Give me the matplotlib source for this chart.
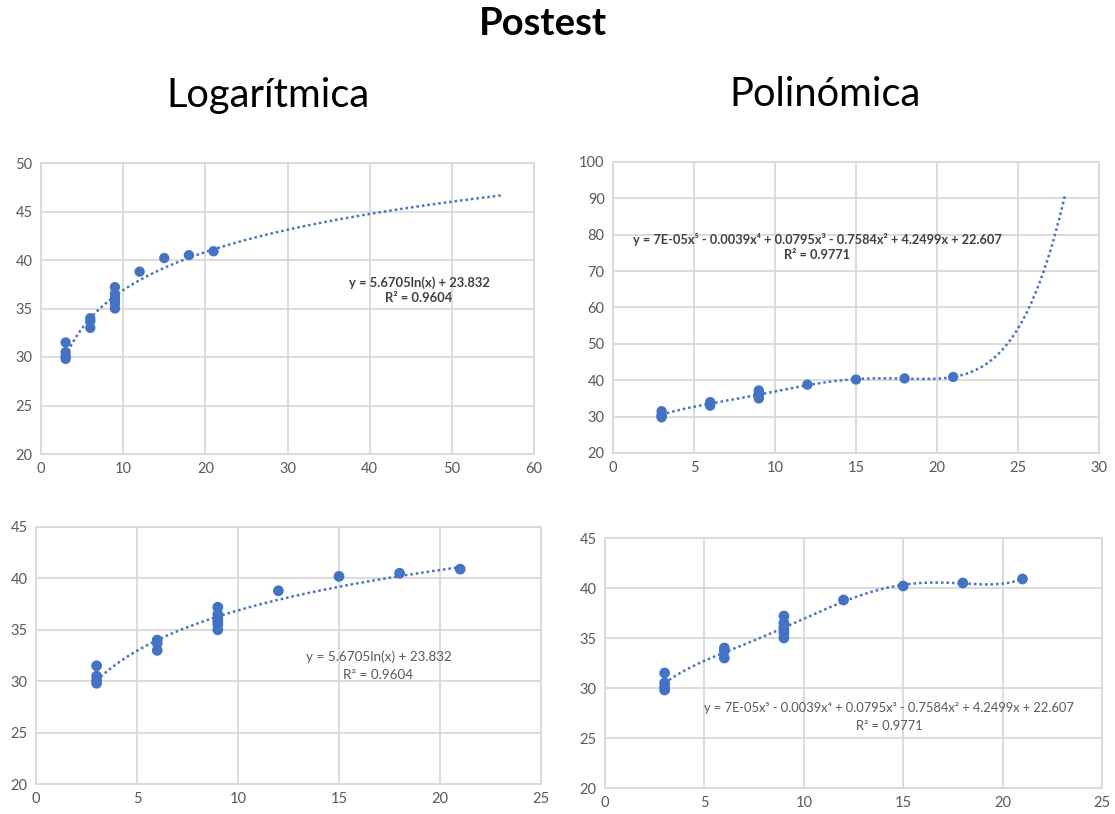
import numpy as np
import matplotlib
matplotlib.use("Agg")
import matplotlib.pyplot as plt

plt.rcParams['font.family'] = ['Lato', 'DejaVu Sans']

# Data
x_vals = [3, 3, 3, 3, 6, 6, 6, 9, 9, 9, 9, 9, 9, 12, 15, 18, 21]
y_vals = [31.5, 30.5, 30.1, 29.8, 34.0, 33.7, 33.0,
          37.2, 36.5, 36.1, 35.8, 35.5, 35.0, 38.8, 40.2, 40.5, 40.9]

log_coef = [5.6705, 23.832]  # y = a ln(x) + b (as displayed)
log_label = "y = 5.6705ln(x) + 23.832\nR² = 0.9604"
poly_label = ("y = 7E-05x⁵ - 0.0039x⁴ + 0.0795x³ - 0.7584x² + 4.2499x + 22.607\n"
              "R² = 0.9771")

title = "Postest"
col_titles = ["Logarítmica", "Polinómica"]

blue = "#4472C4"
grid_c = "#D9D9D9"
tick_c = "#595959"

x = np.array(x_vals, dtype=float)
y = np.array(y_vals, dtype=float)
pcoef = np.polyfit(x, y, 5)

fig = plt.figure(figsize=(11.15, 8.14), dpi=100)
W, H = 1115, 814

def add_ax(l, r, t, b):
    return fig.add_axes([l / W, 1 - b / H, (r - l) / W, (b - t) / H])

def style(ax, xlim, xstep, ylim, ystep, tsize=10.5):
    ax.set_xlim(*xlim)
    ax.set_ylim(*ylim)
    ax.set_xticks(np.arange(xlim[0], xlim[1] + 0.1, xstep))
    ax.set_yticks(np.arange(ylim[0], ylim[1] + 0.1, ystep))
    ax.grid(True, color=grid_c, lw=1.3)
    ax.set_axisbelow(True)
    for s in ax.spines.values():
        s.set_color(grid_c)
        s.set_linewidth(1.3)
    ax.tick_params(length=0, colors=tick_c, labelsize=tsize, pad=6)

def log_curve(ax, x0, x1):
    xx = np.linspace(x0, x1, 300)
    ax.plot(xx, log_coef[0] * np.log(xx) + log_coef[1], ls=(0, (1, 1.2)),
            color=blue, lw=1.8, zorder=2)

def poly_curve(ax, x0, x1):
    xx = np.linspace(x0, x1, 300)
    ax.plot(xx, np.polyval(pcoef, xx), ls=(0, (1, 1.2)),
            color=blue, lw=1.8, zorder=2)

# Top-left
ax1 = add_ax(41, 534, 163, 454)
style(ax1, (0, 60), 10, (20, 50), 5)
log_curve(ax1, 3, 56)
ax1.scatter(x, y, s=55, color=blue, zorder=3, edgecolors='none')
ax1.text(46, 36.9, log_label, ha='center', va='center', fontsize=9.4,
         fontweight='bold', color='#404040', linespacing=1.3)

# Top-right
ax2 = add_ax(613, 1099, 162, 453)
style(ax2, (0, 30), 5, (20, 100), 10)
poly_curve(ax2, 3, 27.9)
ax2.scatter(x, y, s=55, color=blue, zorder=3, edgecolors='none')
ax2.text(12.6, 76.5, poly_label, ha='center', va='center', fontsize=9.2,
         fontweight='bold', color='#404040', linespacing=1.3)

# Bottom-left
ax3 = add_ax(36, 541, 527, 784)
style(ax3, (0, 25), 5, (20, 45), 5)
log_curve(ax3, 3, 21)
ax3.scatter(x, y, s=60, color=blue, zorder=3, edgecolors='none')
ax3.text(16.95, 31.5, log_label, ha='center', va='center', fontsize=9.7,
         color=tick_c, linespacing=1.55)

# Bottom-right
ax4 = add_ax(605, 1102, 538, 788)
style(ax4, (0, 25), 5, (20, 45), 5)
poly_curve(ax4, 3, 21)
ax4.scatter(x, y, s=60, color=blue, zorder=3, edgecolors='none')
ax4.text(14.3, 27.1, poly_label, ha='center', va='center', fontsize=9.3,
         color=tick_c, linespacing=1.6)

fig.text(543 / W, 1 - 24 / H, title, ha='center', va='center',
         fontsize=27.5, fontweight='bold', color='black')
fig.text(268 / W, 1 - 95 / H, col_titles[0], ha='center', va='center',
         fontsize=28.7, color='black')
fig.text(825 / W, 1 - 95 / H, col_titles[1], ha='center', va='center',
         fontsize=28.7, color='black')

fig.savefig("out.png", dpi=100, facecolor='white')
